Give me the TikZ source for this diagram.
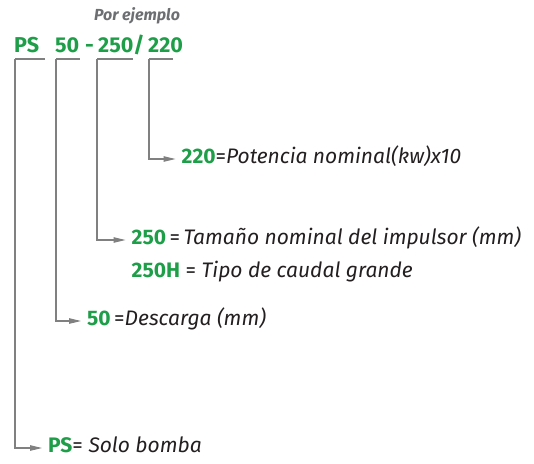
\documentclass[tikz,border=0pt]{standalone}
\usepackage{fontspec}
\setmainfont{Fira Sans}
\usetikzlibrary{arrows.meta}
\definecolor{psgreen}{RGB}{30,158,72}
\definecolor{leadgray}{RGB}{128,128,128}
\definecolor{notegray}{RGB}{109,110,113}
\definecolor{txtdark}{RGB}{35,31,32}
\newcommand{\codepart}[1]{\textcolor{psgreen}{\textbf{#1}}}

\tikzset{
  lead/.style={draw=leadgray, line width=1.1pt, -{Triangle[length=12pt,width=5.5pt]}, shorten >=6pt},
  bracket/.style={draw=leadgray, line width=1.1pt},
  lbl/.style={anchor=west, inner sep=0pt, text height=0.85em, text depth=0pt,
              text=txtdark, font=\fontsize{21}{21}\selectfont}
}

\begin{document}
\begin{tikzpicture}[x=1pt,y=-1pt]
\useasboundingbox (0,0) rectangle (534,463);
\node[text=notegray, font=\fontsize{16}{16}\selectfont\bfseries\itshape] (ej) at (137,16) {Por ejemplo};
\begin{scope}[every node/.style={anchor=base west, inner sep=0pt, text=psgreen,
                                 font=\fontsize{21.5}{21.5}\selectfont\bfseries}]
    \node (ps) at (14,52) {PS};
    \node (c50) at (55,52) {50};
    \node (dash) at (85,52) {-};
    \node (c250) at (98,52) {250/};
    \node (c220) at (148,52) {220};
\end{scope}
% bracket corners and ends
\coordinate (bps) at (15,59);   \coordinate (eps) at (45,59);
\coordinate (b50) at (56,59);   \coordinate (e50) at (80,59);
\coordinate (b250) at (97,59);  \coordinate (e250) at (133,59);
\coordinate (b220) at (149,59); \coordinate (e220) at (173,59);
% labels
\node[lbl] (l220) at (181.5,159) {\codepart{220}=\textit{Potencia nominal(kw)x10}};
\node[lbl] (l250) at (131.5,240) {\codepart{250}\,=\,\textit{Tamaño nominal del impulsor (mm)}};
\node[lbl] (l250h) at (131.5,273.5) {\codepart{250H} = \textit{Tipo de caudal grande}};
\node[lbl] (l50) at (87,321) {\codepart{50}\,=\textit{Descarga (mm)}};
\node[lbl] (lps) at (48,448) {\codepart{PS}= \textit{Solo bomba}};

\draw[bracket] (e220) -- (b220);
\draw[bracket] (e250) -- (b250);
\draw[bracket] (e50) -- (b50);
\draw[bracket] (eps) -- (bps);
\draw[lead] (b220) |- (l220);
\draw[lead] (b250) |- (l250);
\draw[lead] (b50) |- (l50);
\draw[lead] (bps) |- (lps);
\end{tikzpicture}
\end{document}
